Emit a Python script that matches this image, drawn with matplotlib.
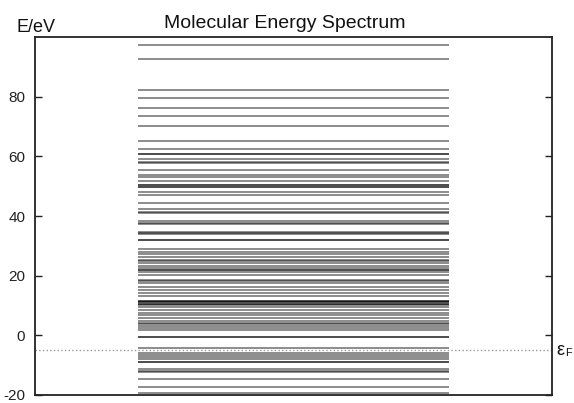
import numpy as np
import matplotlib
matplotlib.use("Agg")
from matplotlib import pyplot as plt

plt.rcParams['font.family'] = ['Liberation Sans', 'DejaVu Sans']
plt.rcParams['axes.unicode_minus'] = False

# energy levels in eV (repeated values = degenerate levels)
levels = [
    97.2, 92.5, 82.2, 79.5, 76.2, 73.5, 70.1,
    65.2, 62.5, 60.8, 60.8, 59.0, 58.2, 57.6, 55.5, 53.9, 53.0, 51.7,
    50.3, 50.3, 49.7, 49.7, 48.0, 47.2,
    44.3, 42.2, 41.5, 40.9, 38.2, 37.7, 37.2, 34.8, 34.2, 33.8,
    31.9, 31.9, 29.0, 27.8, 27.1, 26.4,
    25.4, 24.8, 24.2, 23.4, 22.7, 21.9, 21.9, 21.2, 20.1,
    18.7, 18.1, 17.5, 16.2, 15.1, 14.1, 13.1,
    11.6, 11.6, 11.1, 11.1, 10.6, 10.6, 10.1, 9.5, 8.4, 7.4, 6.7, 5.7,
    4.9, 4.3, 3.8, 3.2, 2.4, 1.9,
    -0.5, -0.5, -4.3, -5.8, -6.5, -7.2, -7.9, -9.1, -9.1,
    -11.3, -11.9, -12.4, -14.7, -17.2, -19.4,
]
e_fermi = -5.0
y_ticks = [-20, 0, 20, 40, 60, 80]

fig = plt.figure(figsize=(5.74, 4.03), dpi=100)
ax = fig.add_axes([35/574, 1-395/403, 517/574, 358/403])

ax.hlines(levels, 0.2, 0.8, colors='k', alpha=0.55, linewidth=1.15)
ax.axhline(e_fermi, color='#999999', linestyle=':', linewidth=1.0)

ax.set_xlim(0, 1)
ax.set_ylim(-20, 100)
ax.set_xticks([])
ax.set_yticks(y_ticks)
ax.tick_params(axis='y', direction='in', length=5, width=1, labelsize=11,
               right=True, pad=7, colors='#222222')
for s in ax.spines.values():
    s.set_linewidth(1.3)
    s.set_color('#222222')

fig.text(0.496, 1-27.5/403, 'Molecular Energy Spectrum', ha='center', va='baseline', fontsize=14, color='#111111')
fig.text(16/574, 1-31.7/403, 'E/eV', ha='left', va='baseline', fontsize=13, color='#111111')
ax.text(1.009, e_fermi, 'ε', transform=ax.get_yaxis_transform(),
        ha='left', va='center', fontsize=13, color='#111111')
ax.text(1.026, e_fermi - 1.0, 'F', transform=ax.get_yaxis_transform(),
        ha='left', va='center', fontsize=8, color='#111111')

fig.savefig('out.png', dpi=100)
